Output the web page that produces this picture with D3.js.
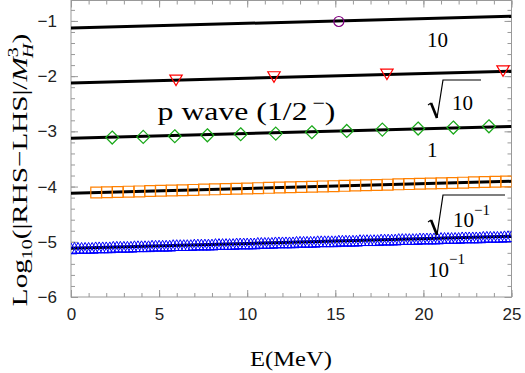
<!DOCTYPE html>
<html>
<head>
<meta charset="utf-8">
<script src="https://cdn.jsdelivr.net/npm/d3@7"></script>
<style>
body { margin: 0; background: #fff; }
svg { display: block; }
</style>
</head>
<body>
<svg id="chart"></svg>
<script>
// black lines, values at E = 0 and E = 25
var lineE = [0, 25];
var line10 = [-1.13, -0.915];
var lineSqrt10 = [-2.125, -1.91];
var line1 = [-3.125, -2.91];
var lineSqrt01 = [-4.12, -3.905];
var line01 = [-5.115, -4.90];

// purple circle
var circleE = [15.2];
var circleV = [-1.01];

// red down triangles
var triE = [5.96, 11.52, 17.93, 24.52];
var triV = [-2.076, -2.016, -1.967, -1.908];

// green diamonds
var diamE = [2.34, 4.10, 5.89, 7.74, 9.63, 11.62, 13.67, 15.65, 17.67, 19.70, 21.70, 23.72];
var diamV = [-3.112, -3.101, -3.089, -3.071, -3.052, -3.040, -3.016, -2.993, -2.968, -2.949, -2.931, -2.908];

// orange squares
var squareE = [1.43, 2.04, 2.65, 3.27, 3.88, 4.49, 5.10, 5.72, 6.33, 6.94, 7.55, 8.17, 8.78,
    9.39, 10.00, 10.62, 11.23, 11.84, 12.45, 13.07, 13.68, 14.29, 14.90, 15.52, 16.13, 16.74,
    17.35, 17.97, 18.58, 19.19, 19.80, 20.42, 21.03, 21.64, 22.25, 22.87, 23.48, 24.09, 24.70];
var squareV = [-4.108, -4.102, -4.097, -4.092, -4.087, -4.081, -4.076, -4.071, -4.066, -4.060,
    -4.055, -4.050, -4.044, -4.039, -4.034, -4.029, -4.023, -4.018, -4.013, -4.008, -4.002,
    -3.997, -3.992, -3.987, -3.981, -3.976, -3.971, -3.965, -3.960, -3.955, -3.950, -3.944,
    -3.939, -3.934, -3.929, -3.923, -3.918, -3.913, -3.908];

// blue up triangles (dense band)
var blueE = [0.0, 0.2, 0.4, 0.6, 0.8, 1.0, 1.2, 1.4, 1.6, 1.8, 2.0, 2.2, 2.4, 2.6, 2.8, 3.0,
    3.2, 3.4, 3.6, 3.8, 4.0, 4.2, 4.4, 4.6, 4.8, 5.0, 5.2, 5.4, 5.6, 5.8, 6.0, 6.2, 6.4, 6.6,
    6.8, 7.0, 7.2, 7.4, 7.6, 7.8, 8.0, 8.2, 8.4, 8.6, 8.8, 9.0, 9.2, 9.4, 9.6, 9.8, 10.0, 10.2,
    10.4, 10.6, 10.8, 11.0, 11.2, 11.4, 11.6, 11.8, 12.0, 12.2, 12.4, 12.6, 12.8, 13.0, 13.2,
    13.4, 13.6, 13.8, 14.0, 14.2, 14.4, 14.6, 14.8, 15.0, 15.2, 15.4, 15.6, 15.8, 16.0, 16.2,
    16.4, 16.6, 16.8, 17.0, 17.2, 17.4, 17.6, 17.8, 18.0, 18.2, 18.4, 18.6, 18.8, 19.0, 19.2,
    19.4, 19.6, 19.8, 20.0, 20.2, 20.4, 20.6, 20.8, 21.0, 21.2, 21.4, 21.6, 21.8, 22.0, 22.2,
    22.4, 22.6, 22.8, 23.0, 23.2, 23.4, 23.6, 23.8, 24.0, 24.2, 24.4, 24.6, 24.8, 25.0];
var blueV = [-5.12, -5.11, -5.11, -5.11, -5.11, -5.11, -5.11, -5.10, -5.10, -5.10, -5.10, -5.10,
    -5.09, -5.09, -5.09, -5.09, -5.09, -5.09, -5.08, -5.08, -5.08, -5.08, -5.08, -5.07, -5.07,
    -5.07, -5.07, -5.07, -5.07, -5.06, -5.06, -5.06, -5.06, -5.06, -5.06, -5.05, -5.05, -5.05,
    -5.05, -5.05, -5.05, -5.04, -5.04, -5.04, -5.04, -5.04, -5.04, -5.03, -5.03, -5.03, -5.03,
    -5.03, -5.03, -5.02, -5.02, -5.02, -5.02, -5.02, -5.01, -5.01, -5.01, -5.01, -5.01, -5.01,
    -5.00, -5.00, -5.00, -5.00, -5.00, -5.00, -4.99, -4.99, -4.99, -4.99, -4.99, -4.99, -4.98,
    -4.98, -4.98, -4.98, -4.98, -4.98, -4.97, -4.97, -4.97, -4.97, -4.97, -4.97, -4.96, -4.96,
    -4.96, -4.96, -4.96, -4.95, -4.95, -4.95, -4.95, -4.95, -4.95, -4.94, -4.94, -4.94, -4.94,
    -4.94, -4.94, -4.93, -4.93, -4.93, -4.93, -4.93, -4.93, -4.92, -4.92, -4.92, -4.92, -4.92,
    -4.92, -4.91, -4.91, -4.91, -4.91, -4.91, -4.91, -4.90, -4.90, -4.90, -4.90];

var xTicks = [0, 5, 10, 15, 20, 25];
var yTicks = [-6, -5, -4, -3, -2, -1];

var screen = {width: 525, height: 373};
var plot = {left: 71, right: 511.5, top: 0.5, bottom: 297};
var yTop = -0.63;
var serif = "Liberation Serif, Times New Roman, serif";
var sans = "Liberation Sans, Arial, sans-serif";

var svg = d3.select("#chart")
    .attr("width", screen.width)
    .attr("height", screen.height);

var xScale = d3.scaleLinear().domain([0, 25]).range([plot.left, plot.right]);
var yScale = d3.scaleLinear().domain([-6, yTop]).range([plot.bottom, plot.top]);

svg.append("defs").append("clipPath").attr("id", "clip")
    .append("rect")
    .attr("x", plot.left).attr("y", plot.top)
    .attr("width", plot.right - plot.left).attr("height", plot.bottom - plot.top);

// axes: major + minor ticks on every side, pointing inward
var minorX = d3.range(0, 26, 1);
var minorY = d3.range(-6, yTop, 0.2);

var drawAxis = function(axis, tx, ty, labels)
{
    var g = svg.append("g")
        .attr("transform", "translate(" + tx + "," + ty + ")")
        .call(axis);
    g.select(".domain").remove();
    g.selectAll("line").attr("stroke", "#999");
    g.selectAll("text")
        .attr("fill", labels ? "#222" : "none")
        .attr("font-family", sans)
        .attr("font-size", 17);
    g.attr("font-family", null).attr("font-size", null);
    return g;
}

var fmt = function(d) { return d < 0 ? "\u2212" + Math.abs(d) : "" + d; };

drawAxis(d3.axisBottom(xScale).tickValues(minorX).tickSize(-4).tickFormat(""), 0, plot.bottom, false);
drawAxis(d3.axisBottom(xScale).tickValues(xTicks).tickSize(-7).tickPadding(11).tickFormat(fmt), 0, plot.bottom, true);
drawAxis(d3.axisTop(xScale).tickValues(minorX).tickSize(-4).tickFormat(""), 0, plot.top, false);
drawAxis(d3.axisTop(xScale).tickValues(xTicks).tickSize(-7).tickFormat(""), 0, plot.top, false);
drawAxis(d3.axisLeft(yScale).tickValues(minorY).tickSize(-4).tickFormat(""), plot.left, 0, false);
drawAxis(d3.axisLeft(yScale).tickValues(yTicks).tickSize(-7).tickPadding(14).tickFormat(fmt), plot.left, 0, true);
drawAxis(d3.axisRight(yScale).tickValues(minorY).tickSize(-4).tickFormat(""), plot.right, 0, false);
drawAxis(d3.axisRight(yScale).tickValues(yTicks).tickSize(-7).tickFormat(""), plot.right, 0, false);

svg.append("rect")
    .attr("x", plot.left).attr("y", plot.top)
    .attr("width", plot.right - plot.left).attr("height", plot.bottom - plot.top)
    .attr("fill", "none").attr("stroke", "#999").attr("stroke-width", 1);

var graph = svg.append("g").attr("clip-path", "url(#clip)");

// markers
var shapes = {
    circle: function(s) { return "M" + s + ",0A" + s + "," + s + " 0 1,1 " + (-s) + ",0A" + s + "," + s + " 0 1,1 " + s + ",0Z"; },
    down: function(s) { return "M" + (-s) + "," + (-s * 0.85) + "L" + s + "," + (-s * 0.85) + "L0," + (s * 0.85) + "Z"; },
    up: function(s) { return "M" + (-s) + "," + (s * 0.9) + "L" + s + "," + (s * 0.9) + "L0," + (-s * 0.9) + "Z"; },
    diamond: function(s) { return "M0," + (-s) + "L" + s + ",0L0," + s + "L" + (-s) + ",0Z"; },
    square: function(s) { return "M" + (-s) + "," + (-s) + "H" + s + "V" + s + "H" + (-s) + "Z"; }
};

var drawMarkers = function(es, vs, shape, size, color, width)
{
    graph.append("g")
        .selectAll("path")
        .data(es)
        .enter()
        .append("path")
        .attr("transform", function(d, i) { return "translate(" + xScale(d) + "," + yScale(vs[i]) + ")"; })
        .attr("d", shapes[shape](size))
        .attr("fill", "none")
        .attr("stroke", color)
        .attr("stroke-width", width);
}

var lineGen = d3.line()
    .x(function(d) { return xScale(d[0]); })
    .y(function(d) { return yScale(d[1]); });

var drawLine = function(vals)
{
    graph.append("path")
        .datum(lineE.map(function(e, i) { return [e, vals[i]]; }))
        .attr("d", lineGen)
        .attr("fill", "none")
        .attr("stroke", "#000")
        .attr("stroke-width", 3);
}

drawLine(line10);
drawLine(lineSqrt10);
drawLine(line1);
drawLine(lineSqrt01);
drawLine(line01);

drawMarkers(blueE, blueV, "up", 6, "#0000ff", 1);
drawMarkers(squareE, squareV, "square", 5.4, "#ff8000", 1.2);
drawMarkers(diamE, diamV, "diamond", 6.5, "#1aa81a", 1.2);
drawMarkers(triE, triV, "down", 6.2, "#ff0000", 1.2);
drawMarkers(circleE, circleV, "circle", 5, "#800080", 1.2);

// curve labels
var label = function(x, y, size)
{
    return svg.append("text")
        .attr("x", x).attr("y", y)
        .attr("font-family", serif)
        .attr("font-size", size)
        .attr("fill", "#000");
}

// square-root sign: hook, heavy down stroke, thin rising stroke, bar
var radical = function(x, yTopBar, yBottom, barEnd)
{
    var yHook = yBottom - 15;
    svg.append("path")
        .attr("d", "M" + x + "," + (yHook + 2) + "L" + (x + 3) + "," + yHook)
        .attr("stroke", "#000").attr("stroke-width", 1.2).attr("fill", "none");
    svg.append("path")
        .attr("d", "M" + (x + 3) + "," + yHook + "L" + (x + 9) + "," + yBottom)
        .attr("stroke", "#000").attr("stroke-width", 2.6).attr("fill", "none");
    svg.append("path")
        .attr("d", "M" + (x + 9) + "," + yBottom + "L" + (x + 15) + "," + yTopBar + "H" + barEnd)
        .attr("stroke", "#000").attr("stroke-width", 1.2).attr("fill", "none")
        .attr("stroke-linejoin", "miter");
}

label(427, 47, 21).text("10");

radical(428, 80, 118, 481);
label(452, 110, 21).text("10");

label(427, 157, 21).text("1");

radical(428, 195, 235, 505);
var t1 = label(453, 227, 21);
t1.append("tspan").text("10");
t1.append("tspan").attr("dy", -12).attr("font-size", 15).text("\u22121");

var t2 = label(428, 277, 21);
t2.append("tspan").text("10");
t2.append("tspan").attr("dy", -13).attr("font-size", 15).text("\u22121");

// stretch text horizontally to a given width
var stretch = function(sel, cx, cy, rot, width)
{
    var len = sel.node().getComputedTextLength();
    sel.attr("x", 0).attr("y", 0)
        .attr("text-anchor", "middle")
        .attr("transform", "translate(" + cx + "," + cy + ") rotate(" + rot + ") scale(" + (width / len) + ",1)");
}

var pw = label(0, 0, 26);
pw.append("tspan").text("p wave (1/2");
pw.append("tspan").attr("dy", -11).attr("dx", 4).attr("font-size", 18).text("\u2212");
pw.append("tspan").attr("dy", 11).text(")");
stretch(pw, 246.5, 120, 0, 173);

var xl = label(0, 0, 22).text("E(MeV)");
stretch(xl, 291, 366, 0, 82);

var yl = label(0, 0, 22);
yl.append("tspan").text("Log");
yl.append("tspan").attr("dy", 5).attr("font-size", 15).text("10");
yl.append("tspan").attr("dy", -5).text("(|RHS\u2212LHS|/");
yl.append("tspan").attr("font-style", "italic").text("M");
yl.append("tspan").attr("dy", -9).attr("font-size", 15).text("3");
yl.append("tspan").attr("dx", -8).attr("dy", 15).attr("font-size", 15).attr("font-style", "italic").text("H");
yl.append("tspan").attr("dy", -6).text(")");
stretch(yl, 27, 170, -90, 283);
</script>
</body>
</html>
